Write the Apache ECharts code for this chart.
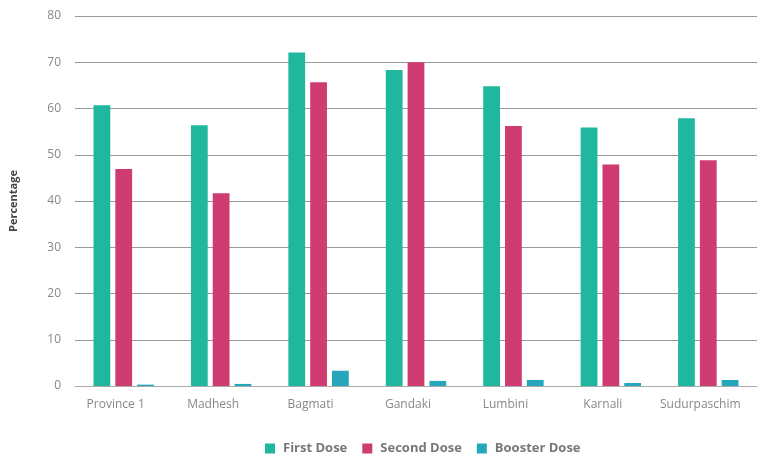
<!DOCTYPE html>
<html>
<head>
<meta charset="utf-8">
<script src="https://cdn.jsdelivr.net/npm/echarts@6/dist/echarts.min.js"></script>
<style>
  html, body { margin: 0; padding: 0; background: #fff; }
  #chart { width: 762px; height: 455px; }
</style>
</head>
<body>
<div id="chart"></div>
<script>
const provinces = ["Province 1", "Madhesh", "Bagmati", "Gandaki", "Lumbini", "Karnali", "Sudurpaschim"];
const firstDose = [60.7, 56.4, 72.1, 68.3, 64.8, 55.9, 57.9];
const secondDose = [46.9, 41.7, 65.7, 70.0, 56.2, 47.9, 48.8];
const boosterDose = [0.3, 0.45, 3.3, 1.1, 1.3, 0.65, 1.3];

const font = "'Open Sans', 'Noto Sans', sans-serif";

const chart = echarts.init(document.getElementById("chart"));
chart.setOption({
  animation: false,
  textStyle: { fontFamily: font },
  grid: { left: 70, right: 5, top: 16, bottom: 69 },
  legend: {
    top: 437,
    left: 260,
    itemWidth: 10,
    itemHeight: 10,
    itemGap: 15,
    icon: "rect",
    textStyle: { color: "#777", fontWeight: "bold", fontSize: 13, fontFamily: font, padding: [0, 0, 0, 3] }
  },
  xAxis: {
    type: "category",
    data: provinces,
    axisTick: { show: false },
    axisLine: { lineStyle: { color: "#aaa" } },
    axisLabel: { color: "#888", fontSize: 12, margin: 13, interval: 0, padding: [0, 16, 0, 0] }
  },
  yAxis: {
    type: "value",
    min: 0,
    max: 80,
    interval: 10,
    name: "Percentage",
    nameLocation: "middle",
    nameGap: 56,
    nameTextStyle: { color: "#444", fontWeight: "bold", fontSize: 11 },
    axisLabel: { color: "#888", fontSize: 12, margin: 14 },
    splitLine: { lineStyle: { color: "#999" } }
  },
  series: [
    { name: "First Dose", type: "bar", data: firstDose, itemStyle: { color: "#1fb89f" }, barGap: "30%", barCategoryGap: "38%" },
    { name: "Second Dose", type: "bar", data: secondDose, itemStyle: { color: "#cf3c72" } },
    { name: "Booster Dose", type: "bar", data: boosterDose, itemStyle: { color: "#25a6bb" } }
  ]
});
</script>
</body>
</html>
